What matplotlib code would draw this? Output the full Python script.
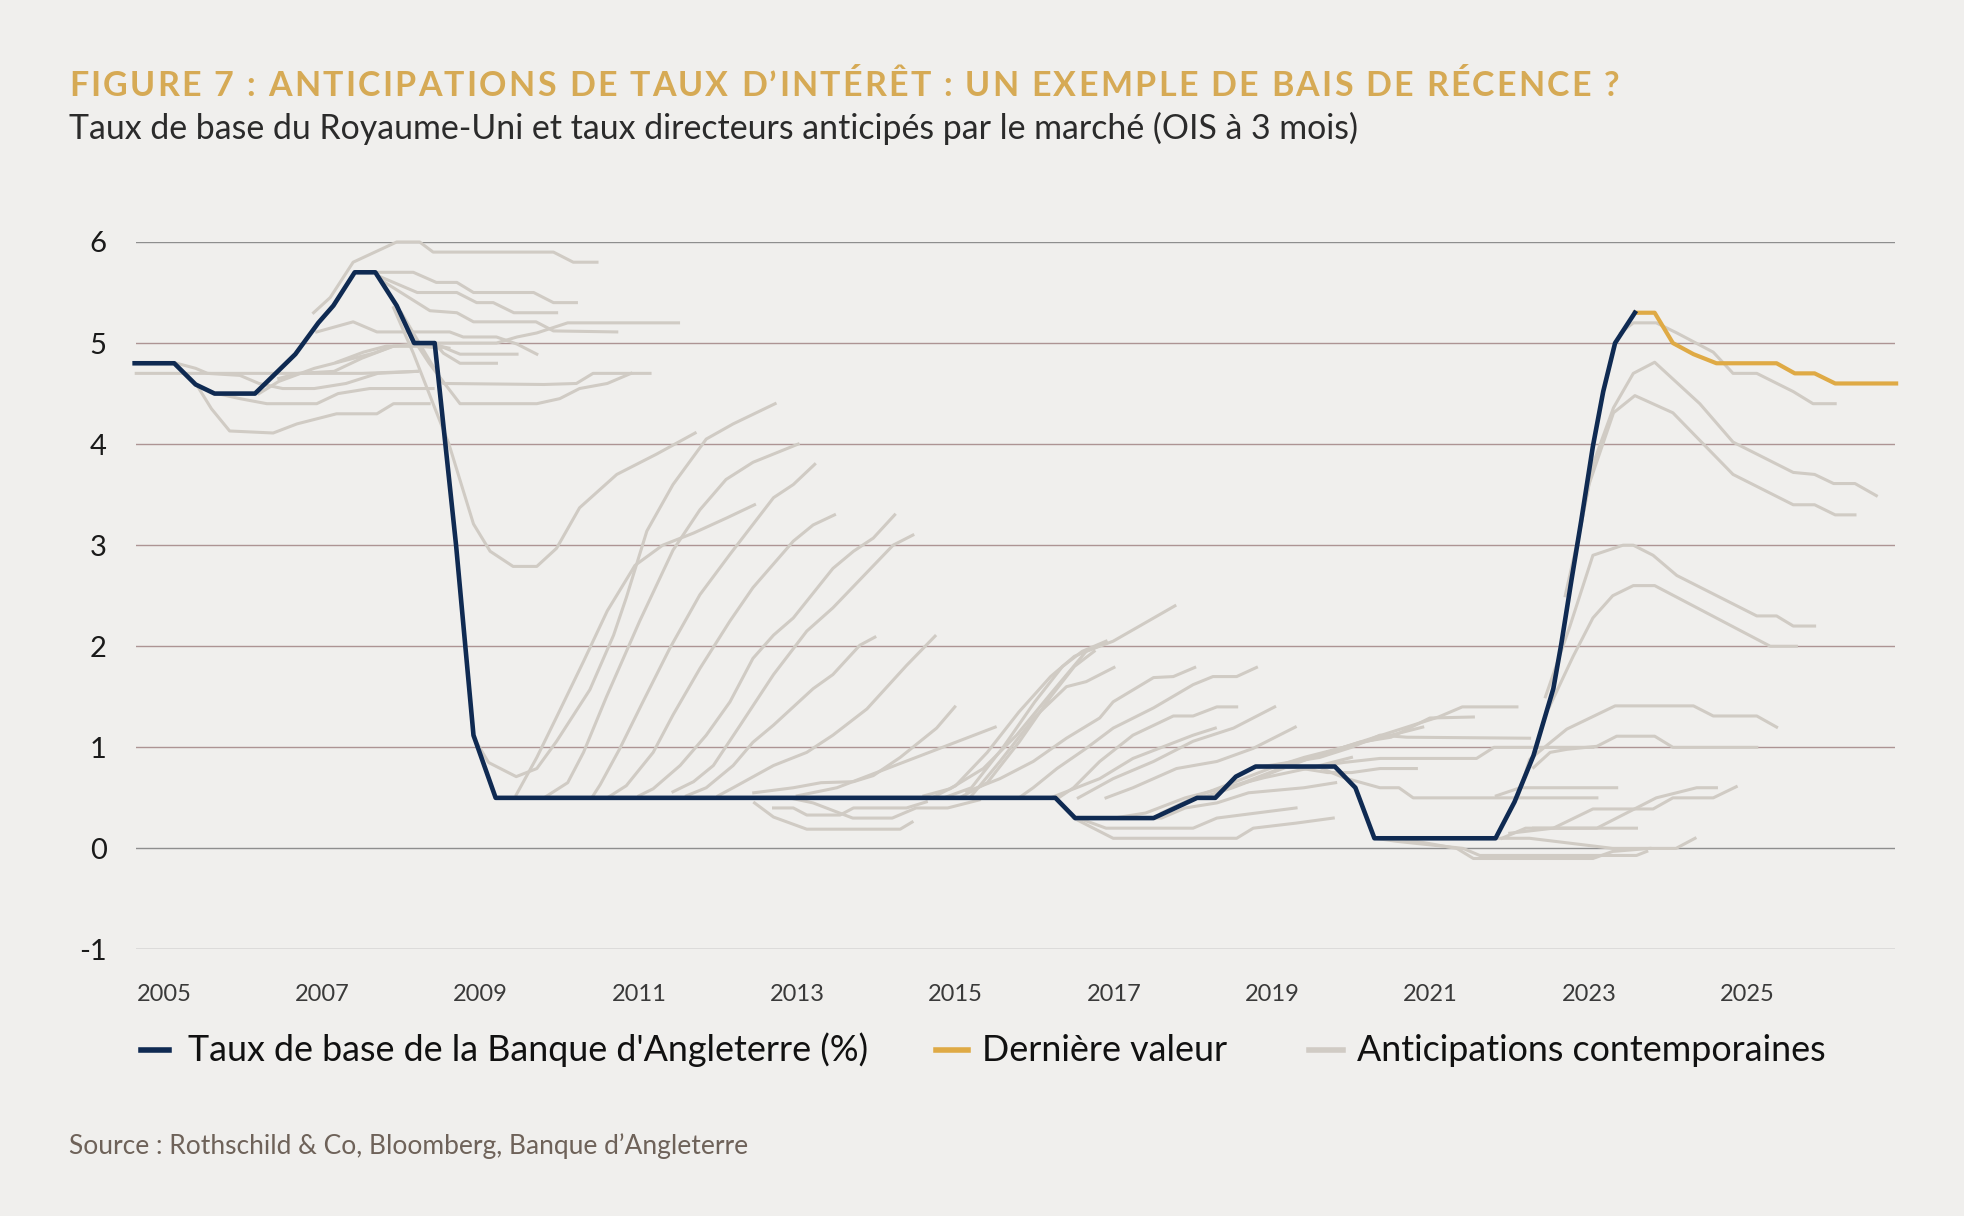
import matplotlib
matplotlib.use("Agg")
import matplotlib.pyplot as plt
from matplotlib.lines import Line2D

plt.rcParams['font.family'] = ['Lato', 'DejaVu Sans']

# Bank of England base rate (%)
base_years = [2004.63, 2005.13, 2005.40, 2005.64, 2006.15, 2006.66, 2006.95, 2007.14, 2007.41,
              2007.67, 2007.94, 2008.16, 2008.42, 2008.69, 2008.91, 2009.19, 2016.26, 2016.51,
              2017.50, 2018.05, 2018.28, 2018.54, 2018.79, 2019.79, 2020.05, 2020.29, 2021.82,
              2022.06, 2022.30, 2022.55, 2022.65, 2022.78, 2022.90, 2023.05, 2023.18, 2023.33, 2023.58]
base_rate = [4.8, 4.8, 4.59, 4.5, 4.5, 4.89, 5.2, 5.37, 5.7,
             5.7, 5.37, 5.0, 5.0, 3.0, 1.12, 0.5, 0.5, 0.3,
             0.3, 0.5, 0.5, 0.71, 0.81, 0.81, 0.6, 0.1, 0.1,
             0.46, 0.92, 1.58, 2.02, 2.66, 3.23, 3.98, 4.52, 5.0, 5.3]

# latest market curve
last_years = [2023.58, 2023.83, 2024.06, 2024.32, 2024.61, 2025.37, 2025.60, 2025.85, 2026.11, 2026.88]
last_vals = [5.3, 5.3, 5.0, 4.89, 4.8, 4.8, 4.7, 4.7, 4.6, 4.6]

# contemporaneous expectations, (year, rate) points per curve
exp_2005_2008 = [
    [(2004.65, 4.7), (2005.5, 4.7), (2006.5, 4.7), (2007.5, 4.7), (2008.2, 4.72)],
    [(2005.16, 4.8), (2005.4, 4.75), (2005.55, 4.7), (2005.96, 4.68), (2006.2, 4.6), (2006.5, 4.55),
     (2006.9, 4.55), (2007.3, 4.6), (2007.7, 4.7), (2008.2, 4.72)],
    [(2005.41, 4.59), (2005.6, 4.35), (2005.83, 4.13), (2006.38, 4.11), (2006.68, 4.2), (2007.18, 4.3),
     (2007.69, 4.3), (2007.9, 4.4), (2008.35, 4.4)],
    [(2005.67, 4.5), (2005.96, 4.45), (2006.3, 4.4), (2006.93, 4.4), (2007.2, 4.5), (2007.6, 4.55), (2008.4, 4.55)],
    [(2006.2, 4.5), (2006.45, 4.62), (2006.9, 4.75), (2007.25, 4.82), (2007.65, 4.9), (2007.9, 4.97),
     (2008.2, 4.97), (2008.5, 4.95)],
    [(2006.45, 4.65), (2006.7, 4.7), (2007.15, 4.72), (2007.5, 4.85), (2007.9, 4.97), (2008.3, 5.0), (2008.6, 4.95)],
    [(2006.93, 5.11), (2007.39, 5.21), (2007.69, 5.11), (2008.61, 5.11), (2008.78, 5.06), (2009.2, 5.06),
     (2009.46, 4.99), (2009.71, 4.89)],
    [(2006.89, 5.3), (2007.1, 5.45), (2007.39, 5.8), (2007.94, 6.0), (2008.23, 6.0), (2008.4, 5.9),
     (2009.92, 5.9), (2010.17, 5.8), (2010.47, 5.8)],
    [(2007.45, 5.7), (2008.15, 5.7), (2008.44, 5.6), (2008.7, 5.6), (2008.91, 5.5), (2009.67, 5.5),
     (2009.92, 5.4), (2010.21, 5.4)],
    [(2007.69, 5.67), (2008.2, 5.5), (2008.7, 5.5), (2008.95, 5.4), (2009.16, 5.4), (2009.42, 5.3), (2009.96, 5.3)],
    [(2007.75, 5.62), (2008.36, 5.32), (2008.7, 5.3), (2008.91, 5.21), (2009.7, 5.21), (2009.92, 5.12), (2010.72, 5.11)],
    [(2007.18, 4.81), (2007.52, 4.91), (2007.81, 4.97), (2008.49, 4.97), (2008.74, 4.89), (2009.46, 4.89)],
    [(2008.42, 5.0), (2008.53, 4.9), (2008.74, 4.8), (2009.2, 4.8)],
    [(2008.0, 5.3), (2008.3, 4.9), (2008.53, 4.6), (2009.8, 4.59), (2010.21, 4.6), (2010.42, 4.7), (2011.14, 4.7)],
    [(2008.1, 5.1), (2008.35, 4.8), (2008.74, 4.4), (2009.71, 4.4), (2010.0, 4.45), (2010.25, 4.55),
     (2010.6, 4.6), (2010.9, 4.7)],
    [(2008.2, 5.0), (2009.2, 5.0), (2009.46, 5.06), (2009.71, 5.1), (2010.1, 5.2), (2011.5, 5.2)],
    [(2007.9, 5.35), (2008.15, 4.9), (2008.35, 4.5), (2008.6, 4.0), (2008.91, 3.21), (2009.12, 2.94),
     (2009.41, 2.79), (2009.71, 2.79), (2009.96, 2.97), (2010.25, 3.37), (2010.72, 3.7), (2011.22, 3.9),
     (2011.71, 4.11)],
]

exp_2009_2012 = [
    [(2008.91, 1.1), (2009.1, 0.85), (2009.45, 0.71), (2009.71, 0.79), (2009.96, 1.06), (2010.38, 1.57),
     (2010.68, 2.11), (2010.84, 2.48), (2011.1, 3.14), (2011.43, 3.6), (2011.85, 4.05), (2012.19, 4.2),
     (2012.72, 4.4)],
    [(2009.45, 0.53), (2009.71, 0.9), (2009.96, 1.3), (2010.3, 1.85), (2010.6, 2.35), (2010.95, 2.8),
     (2011.3, 3.0), (2011.69, 3.12), (2012.11, 3.27), (2012.46, 3.4)],
    [(2009.8, 0.5), (2010.1, 0.65), (2010.3, 0.95), (2010.59, 1.5), (2011.01, 2.25), (2011.43, 2.95),
     (2011.77, 3.35), (2012.1, 3.65), (2012.44, 3.82), (2013.01, 4.0)],
    [(2010.42, 0.52), (2010.51, 0.63), (2010.76, 0.99), (2011.05, 1.45), (2011.39, 1.98), (2011.77, 2.51),
     (2012.15, 2.91), (2012.7, 3.47), (2012.95, 3.6), (2013.22, 3.8)],
    [(2010.6, 0.5), (2010.84, 0.62), (2011.18, 0.95), (2011.43, 1.32), (2011.77, 1.78), (2012.15, 2.25),
     (2012.44, 2.58), (2012.95, 3.04), (2013.2, 3.2), (2013.47, 3.3)],
    [(2011.0, 0.52), (2011.18, 0.59), (2011.52, 0.82), (2011.85, 1.12), (2012.15, 1.45), (2012.44, 1.88),
     (2012.7, 2.11), (2012.95, 2.28), (2013.45, 2.77), (2013.71, 2.94), (2013.96, 3.07), (2014.23, 3.3)],
    [(2011.43, 0.56), (2011.69, 0.66), (2011.94, 0.82), (2012.28, 1.22), (2012.7, 1.72), (2013.12, 2.15),
     (2013.45, 2.38), (2014.21, 3.0), (2014.46, 3.1)],
    [(2011.6, 0.52), (2011.85, 0.6), (2012.19, 0.82), (2012.44, 1.05), (2012.7, 1.22), (2013.2, 1.58),
     (2013.45, 1.72), (2013.79, 2.01), (2013.98, 2.09)],
]

exp_2012_2016 = [
    [(2012.0, 0.52), (2012.19, 0.6), (2012.7, 0.82), (2013.12, 0.95), (2013.45, 1.12), (2013.88, 1.38),
     (2014.38, 1.81), (2014.74, 2.1)],
    [(2012.45, 0.55), (2012.95, 0.6), (2013.3, 0.65), (2013.71, 0.66), (2013.96, 0.72), (2014.3, 0.9),
     (2014.76, 1.19), (2014.99, 1.4)],
    [(2013.0, 0.52), (2013.5, 0.6), (2014.0, 0.75), (2014.5, 0.9), (2015.0, 1.05), (2015.5, 1.2)],
    [(2012.46, 0.45), (2012.7, 0.31), (2013.12, 0.19), (2014.3, 0.19), (2014.45, 0.26)],
    [(2012.7, 0.4), (2012.95, 0.4), (2013.12, 0.33), (2013.54, 0.33), (2013.71, 0.4), (2014.38, 0.4), (2014.63, 0.46)],
    [(2012.9, 0.5), (2013.2, 0.45), (2013.7, 0.3), (2014.2, 0.3), (2014.5, 0.4), (2014.9, 0.4), (2015.3, 0.48)],
    [(2014.6, 0.52), (2014.93, 0.59), (2015.35, 0.79), (2015.77, 1.12), (2016.19, 1.52), (2016.65, 1.95),
     (2016.99, 2.05), (2017.77, 2.4)],
    [(2014.7, 0.5), (2015.0, 0.62), (2015.4, 0.95), (2015.8, 1.35), (2016.2, 1.7), (2016.5, 1.9), (2016.8, 2.0)],
    [(2014.85, 0.5), (2015.2, 0.6), (2015.6, 1.0), (2016.0, 1.45), (2016.35, 1.8), (2016.6, 1.95), (2016.9, 2.05)],
    [(2015.05, 0.5), (2015.4, 0.65), (2015.8, 1.05), (2016.2, 1.5), (2016.5, 1.8), (2016.75, 1.95)],
    [(2015.2, 0.52), (2015.56, 0.86), (2016.0, 1.3), (2016.4, 1.6), (2016.65, 1.65), (2017.0, 1.79)],
    [(2015.14, 0.56), (2015.56, 0.69), (2015.98, 0.86), (2016.4, 1.09), (2016.82, 1.29), (2016.99, 1.45),
     (2017.5, 1.69), (2017.75, 1.7), (2018.02, 1.79)],
    [(2015.8, 0.5), (2015.98, 0.6), (2016.28, 0.79), (2016.65, 0.99), (2016.99, 1.19), (2017.5, 1.39),
     (2018.0, 1.62), (2018.25, 1.7), (2018.55, 1.7), (2018.8, 1.79)],
    [(2016.3, 0.5), (2016.49, 0.6), (2016.82, 0.86), (2017.24, 1.12), (2017.75, 1.31), (2018.0, 1.31),
     (2018.3, 1.4), (2018.55, 1.4)],
    [(2016.2, 0.5), (2016.82, 0.69), (2017.24, 0.89), (2018.0, 1.12), (2018.28, 1.19)],
]

exp_2016_2021 = [
    [(2016.55, 0.5), (2016.99, 0.69), (2017.5, 0.86), (2018.0, 1.06), (2018.51, 1.19), (2019.03, 1.4)],
    [(2016.9, 0.5), (2017.24, 0.6), (2017.79, 0.79), (2018.3, 0.86), (2018.76, 0.99), (2019.29, 1.2)],
    [(2016.49, 0.3), (2016.74, 0.2), (2016.99, 0.1), (2018.55, 0.1), (2018.76, 0.2), (2019.3, 0.25), (2019.77, 0.3)],
    [(2016.55, 0.3), (2016.9, 0.2), (2018.0, 0.2), (2018.3, 0.3), (2018.8, 0.35), (2019.3, 0.4)],
    [(2016.7, 0.3), (2017.6, 0.3), (2017.9, 0.4), (2018.3, 0.45), (2018.7, 0.55), (2019.4, 0.6), (2019.8, 0.65)],
    [(2017.0, 0.3), (2017.4, 0.35), (2017.9, 0.5), (2018.4, 0.6), (2018.9, 0.7), (2019.5, 0.8), (2020.0, 0.9)],
    [(2017.6, 0.35), (2018.0, 0.5), (2018.5, 0.65), (2019.0, 0.8), (2019.4, 0.9), (2019.9, 1.0), (2020.4, 1.1),
     (2020.9, 1.2)],
    [(2018.1, 0.5), (2018.5, 0.6), (2019.0, 0.75), (2019.5, 0.9), (2019.9, 1.0), (2020.3, 1.1), (2020.7, 1.2),
     (2021.1, 1.3), (2021.4, 1.4), (2022.09, 1.4)],
    [(2018.3, 0.55), (2018.8, 0.7), (2019.3, 0.85), (2019.7, 0.95), (2020.1, 1.05), (2020.5, 1.1),
     (2020.99, 1.29), (2021.54, 1.3)],
    [(2018.8, 0.8), (2019.2, 0.85), (2019.6, 0.9), (2020.0, 1.0), (2020.36, 1.12), (2020.7, 1.1), (2022.25, 1.09)],
    [(2019.0, 0.8), (2019.5, 0.8), (2019.9, 0.85), (2020.36, 0.89), (2021.58, 0.89), (2021.8, 1.0), (2023.05, 1.0)],
    [(2019.3, 0.8), (2019.7, 0.75), (2020.0, 0.75), (2020.36, 0.79), (2020.82, 0.79)],
    [(2019.6, 0.8), (2019.9, 0.7), (2020.36, 0.6), (2020.6, 0.6), (2020.78, 0.5), (2023.1, 0.5)],
    [(2020.3, 0.1), (2020.57, 0.07), (2021.41, 0.0), (2021.62, -0.07), (2023.6, -0.07), (2023.73, -0.03)],
    [(2020.6, 0.1), (2021.33, 0.0), (2021.54, -0.1), (2023.05, -0.1), (2023.3, -0.03), (2023.77, 0.0)],
    [(2021.79, 0.1), (2022.25, 0.1), (2023.3, 0.0), (2024.1, 0.0), (2024.34, 0.1)],
]

exp_2022_2023 = [
    [(2021.9, 0.1), (2022.2, 0.2), (2023.6, 0.2)],
    [(2021.83, 0.52), (2022.13, 0.6), (2023.35, 0.6)],
    [(2022.0, 0.15), (2022.55, 0.2), (2023.05, 0.39), (2023.81, 0.39), (2024.06, 0.5), (2024.57, 0.5), (2024.86, 0.61)],
    [(2022.3, 0.2), (2023.1, 0.2), (2023.85, 0.5), (2024.36, 0.6), (2024.61, 0.6)],
    [(2022.1, 0.5), (2022.25, 0.88), (2022.72, 1.18), (2023.33, 1.41), (2024.32, 1.41), (2024.57, 1.31),
     (2025.12, 1.31), (2025.37, 1.2)],
    [(2022.3, 0.8), (2022.51, 0.95), (2022.72, 0.98), (2023.1, 1.01), (2023.35, 1.11), (2023.83, 1.11),
     (2024.06, 1.0), (2025.12, 1.0)],
    [(2022.45, 1.5), (2022.76, 2.2), (2023.05, 2.9), (2023.43, 3.0), (2023.56, 3.0), (2023.81, 2.9),
     (2024.11, 2.7), (2025.12, 2.3), (2025.37, 2.3), (2025.58, 2.2), (2025.85, 2.2)],
    [(2022.5, 1.4), (2022.8, 1.9), (2023.05, 2.28), (2023.3, 2.5), (2023.56, 2.6), (2023.83, 2.6),
     (2025.29, 2.0), (2025.62, 2.0)],
    [(2022.7, 2.5), (2022.9, 3.2), (2023.05, 3.8), (2023.31, 4.36), (2023.56, 4.7), (2023.83, 4.81),
     (2024.4, 4.4), (2024.82, 4.02), (2025.58, 3.72), (2025.85, 3.7), (2026.09, 3.61), (2026.36, 3.61),
     (2026.63, 3.49)],
    [(2022.8, 2.8), (2023.0, 3.6), (2023.31, 4.31), (2023.58, 4.48), (2024.06, 4.31), (2024.82, 3.7),
     (2025.58, 3.4), (2025.85, 3.4), (2026.11, 3.3), (2026.36, 3.3)],
    [(2023.4, 5.1), (2023.56, 5.2), (2023.85, 5.2), (2024.11, 5.1), (2024.57, 4.91), (2024.82, 4.7),
     (2025.12, 4.7), (2025.58, 4.52), (2025.83, 4.4), (2026.11, 4.4)],
]

year_ticks = [2005, 2007, 2009, 2011, 2013, 2015, 2017, 2019, 2021, 2023, 2025]
y_ticks = [-1, 0, 1, 2, 3, 4, 5, 6]

title = "FIGURE 7 : ANTICIPATIONS DE TAUX D\u2019INTÉRÊT : UN EXEMPLE DE BAIS DE RÉCENCE ?"
subtitle = "Taux de base du Royaume-Uni et taux directeurs anticipés par le marché (OIS à 3 mois)"
source = "Source : Rothschild & Co, Bloomberg, Banque d\u2019Angleterre"

bg = '#f0efed'
navy = '#0f2a52'
gold = '#dfaa45'
grey = '#d0cbc4'

W, H = 1964, 1216
fig = plt.figure(figsize=(W / 100, H / 100), dpi=100, facecolor=bg)
ax = fig.add_axes([0.0692, 0.2192, 0.8956, 0.5818])
ax.set_facecolor(bg)

for y in y_ticks:
    c = '#8e8e8e' if y in (-1, 0, 6) else '#ad9494'
    ax.axhline(y, color=c, lw=1.0, zorder=0)

for group in [exp_2005_2008, exp_2009_2012, exp_2012_2016, exp_2016_2021, exp_2022_2023]:
    for curve in group:
        xs = [p[0] for p in curve]
        ys = [p[1] for p in curve]
        ax.plot(xs, ys, color=grey, lw=2.2, zorder=2, clip_on=False)

ax.plot(last_years, last_vals, color=gold, lw=3.0, zorder=3, clip_on=False)
ax.plot(base_years, base_rate, color=navy, lw=3.3, zorder=4, clip_on=False)

ax.set_xlim(2004.646, 2026.864)
ax.set_ylim(-1, 6)
ax.set_yticks(y_ticks)
ax.set_yticklabels([str(v) for v in y_ticks], fontsize=21, color='#1a1a1a')
ax.set_xticks(year_ticks)
ax.set_xticklabels([str(v) for v in year_ticks], fontsize=17, color='#3a3a3a')
ax.tick_params(axis='y', length=0, pad=21)
ax.tick_params(axis='x', length=0, pad=25)
for s in ax.spines.values():
    s.set_visible(False)

# title with letter spacing
title_size = 24.5
renderer = fig.canvas.get_renderer()
probe = fig.text(0, 0, "", fontsize=title_size, fontweight='bold')


def text_width(s):
    probe.set_text(s + "|")
    w = probe.get_window_extent(renderer).width
    probe.set_text("|")
    return w - probe.get_window_extent(renderer).width


track = 2.3
x0 = 69
for i, ch in enumerate(title):
    if ch != " ":
        fig.text((x0 + text_width(title[:i]) + i * track) / W, 0.929, ch,
                 fontsize=title_size, fontweight='bold', color='#d6aa55', va='center', ha='left')
probe.remove()

fig.text(0.0351, 0.894, subtitle, fontsize=24.4, color='#2b2b2b', va='center', ha='left')

# legend
leg_y = 0.1365
leg_items = [(141, 169, 188, navy, "Taux de base de la Banque d'Angleterre (%)"),
             (936, 968, 982, gold, "Dernière valeur"),
             (1309, 1343, 1357, grey, "Anticipations contemporaines")]
for xa, xb, xt, col, lab in leg_items:
    fig.add_artist(Line2D([xa / W, xb / W], [leg_y, leg_y], color=col, lw=4, transform=fig.transFigure))
    fig.text(xt / W, leg_y, lab, fontsize=25.8, color='#111111', va='center', ha='left')

fig.text(0.0351, 0.0576, source, fontsize=19, color='#6e6259', va='center', ha='left')

fig.savefig('out.png', dpi=100, facecolor=bg)
